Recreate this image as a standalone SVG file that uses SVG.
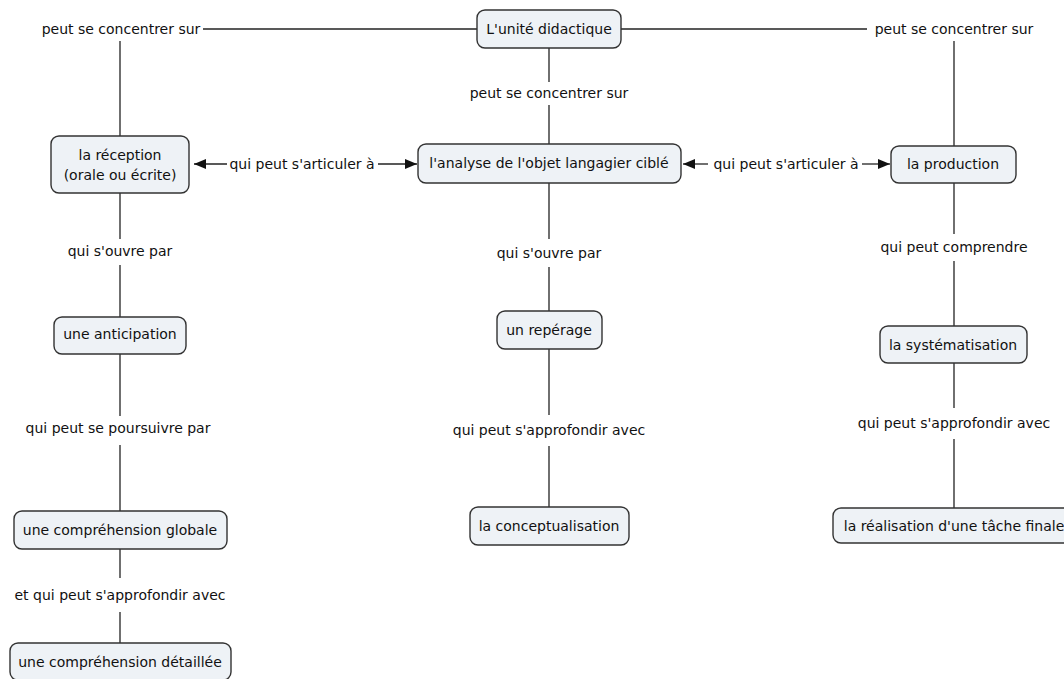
<svg xmlns="http://www.w3.org/2000/svg" width="1064" height="679" viewBox="0 0 1064 679">
<defs>
<style>
text{font-family:"DejaVu Sans","Verdana",sans-serif;font-size:14px;fill:#111;text-anchor:middle}
.box{fill:#eef2f6;stroke:#333;stroke-width:1.4}
.ln{stroke:#222;stroke-width:1.3;fill:none}
</style>
<marker id="ah" markerWidth="13" markerHeight="11" refX="12" refY="5" orient="auto" markerUnits="userSpaceOnUse">
<path d="M0,0 L12,5 L0,10 z" fill="#111"/>
</marker>
</defs>
<rect width="1064" height="679" fill="#fff"/>
<g id="connectors">
<line class="ln" x1="203" y1="29" x2="477" y2="29"/>
<line class="ln" x1="621" y1="29" x2="867" y2="29"/>
<line class="ln" x1="120" y1="41" x2="120" y2="136"/>
<line class="ln" x1="954" y1="41" x2="954" y2="146"/>
<line class="ln" x1="549" y1="48" x2="549" y2="82"/>
<line class="ln" x1="549" y1="105" x2="549" y2="144"/>
<line class="ln" x1="227" y1="164" x2="194" y2="164" marker-end="url(#ah)"/>
<line class="ln" x1="378" y1="164" x2="417" y2="164" marker-end="url(#ah)"/>
<line class="ln" x1="708" y1="164" x2="683" y2="164" marker-end="url(#ah)"/>
<line class="ln" x1="862" y1="164" x2="890" y2="164" marker-end="url(#ah)"/>
<line class="ln" x1="120" y1="193" x2="120" y2="239"/>
<line class="ln" x1="120" y1="265" x2="120" y2="317"/>
<line class="ln" x1="120" y1="354" x2="120" y2="416"/>
<line class="ln" x1="120" y1="445" x2="120" y2="511"/>
<line class="ln" x1="120" y1="549" x2="120" y2="578"/>
<line class="ln" x1="120" y1="612" x2="120" y2="643"/>
<line class="ln" x1="549" y1="183" x2="549" y2="239"/>
<line class="ln" x1="549" y1="267" x2="549" y2="311"/>
<line class="ln" x1="549" y1="349" x2="549" y2="415"/>
<line class="ln" x1="549" y1="446" x2="549" y2="507"/>
<line class="ln" x1="954" y1="183" x2="954" y2="234"/>
<line class="ln" x1="954" y1="261" x2="954" y2="326"/>
<line class="ln" x1="954" y1="363" x2="954" y2="408"/>
<line class="ln" x1="954" y1="439" x2="954" y2="508"/>
</g>
<g id="labels">
<text x="121" y="34">peut se concentrer sur</text>
<text x="954" y="34">peut se concentrer sur</text>
<text x="549" y="98">peut se concentrer sur</text>
<text x="302" y="169">qui peut s'articuler à</text>
<text x="786" y="169">qui peut s'articuler à</text>
<text x="120" y="256">qui s'ouvre par</text>
<text x="549" y="258">qui s'ouvre par</text>
<text x="954" y="252">qui peut comprendre</text>
<text x="118" y="433">qui peut se poursuivre par</text>
<text x="549" y="435">qui peut s'approfondir avec</text>
<text x="954" y="428">qui peut s'approfondir avec</text>
<text x="120" y="600">et qui peut s'approfondir avec</text>
</g>
<g id="n-unite"><rect class="box" x="477" y="10" width="144" height="38" rx="8"/><text x="549" y="34">L'unité didactique</text></g>
<g id="n-reception"><rect class="box" x="51" y="136" width="138" height="57" rx="8"/><text x="120" y="160">la réception</text><text x="120" y="180">(orale ou écrite)</text></g>
<g id="n-analyse"><rect class="box" x="418" y="144" width="263" height="39" rx="8"/><text x="549" y="168">l'analyse de l'objet langagier ciblé</text></g>
<g id="n-production"><rect class="box" x="891" y="146" width="125" height="37" rx="8"/><text x="953" y="169">la production</text></g>
<g id="n-anticipation"><rect class="box" x="54" y="317" width="132" height="37" rx="8"/><text x="120" y="339">une anticipation</text></g>
<g id="n-reperage"><rect class="box" x="497" y="311" width="105" height="38" rx="8"/><text x="549" y="335">un repérage</text></g>
<g id="n-systematisation"><rect class="box" x="880" y="326" width="147" height="37" rx="8"/><text x="953" y="350">la systématisation</text></g>
<g id="n-globale"><rect class="box" x="14" y="511" width="213" height="38" rx="8"/><text x="120" y="535">une compréhension globale</text></g>
<g id="n-conceptualisation"><rect class="box" x="470" y="507" width="159" height="38" rx="8"/><text x="549" y="531">la conceptualisation</text></g>
<g id="n-realisation"><rect class="box" x="833" y="508" width="245" height="35" rx="8"/><text x="954" y="531">la réalisation d'une tâche finale</text></g>
<g id="n-detaillee"><rect class="box" x="10" y="643" width="221" height="37" rx="8"/><text x="120" y="667">une compréhension détaillée</text></g>
</svg>
